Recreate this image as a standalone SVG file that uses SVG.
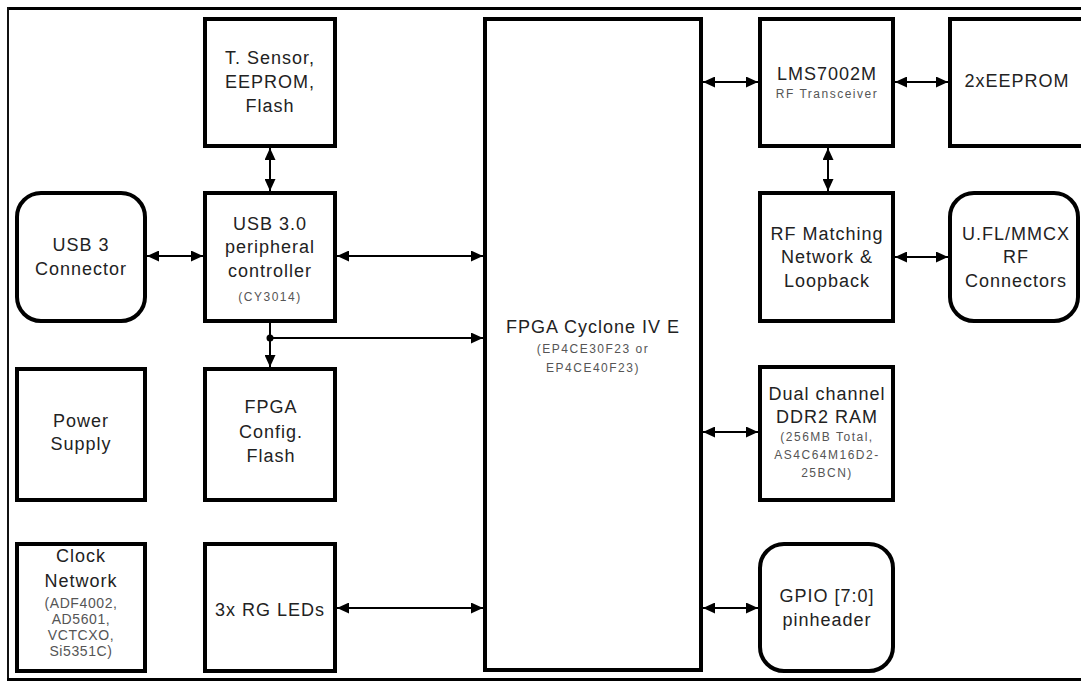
<svg xmlns="http://www.w3.org/2000/svg" width="1081" height="681" viewBox="0 0 1081 681">
<style>
.box{fill:#fff;stroke:#000;stroke-width:4}
.t{font-family:"Liberation Sans",Arial,sans-serif;font-size:18px;fill:#222;text-anchor:middle;letter-spacing:1px}
.s{font-family:"Liberation Sans",Arial,sans-serif;font-size:12px;fill:#555;text-anchor:middle;letter-spacing:1.5px}
.m{font-family:"Liberation Sans",Arial,sans-serif;font-size:14px;fill:#555;text-anchor:middle;letter-spacing:0.6px}
.c{stroke:#000;stroke-width:2;fill:none}
</style>
<defs>
<marker id="ah" markerUnits="userSpaceOnUse" markerWidth="12" markerHeight="11" refX="12" refY="5.5" orient="auto-start-reverse" viewBox="0 0 12 11">
<path d="M0,0 L12,5.5 L0,11 z" fill="#000"/>
</marker>
</defs>
<rect width="1081" height="681" fill="#fff"/>
<g id="frame">
<line x1="7" y1="8.5" x2="1081" y2="8.5" stroke="#000" stroke-width="3"/>
<line x1="8" y1="7" x2="8" y2="680" stroke="#111" stroke-width="2"/>
<line x1="7" y1="679.5" x2="1081" y2="679.5" stroke="#000" stroke-width="3"/>
</g>
<g id="connectors">
<line class="c" x1="147" y1="256" x2="203" y2="256" marker-start="url(#ah)" marker-end="url(#ah)"/>
<line class="c" x1="270" y1="148" x2="270" y2="191" marker-start="url(#ah)" marker-end="url(#ah)"/>
<line class="c" x1="337" y1="256" x2="483" y2="256" marker-start="url(#ah)" marker-end="url(#ah)"/>
<line class="c" x1="270" y1="323" x2="270" y2="367" marker-end="url(#ah)"/>
<circle cx="270" cy="338" r="3.5" fill="#000"/>
<line class="c" x1="270" y1="338" x2="483" y2="338" marker-end="url(#ah)"/>
<line class="c" x1="337" y1="608" x2="483" y2="608" marker-start="url(#ah)" marker-end="url(#ah)"/>
<line class="c" x1="703" y1="82" x2="758" y2="82" marker-start="url(#ah)" marker-end="url(#ah)"/>
<line class="c" x1="895" y1="82" x2="948" y2="82" marker-start="url(#ah)" marker-end="url(#ah)"/>
<line class="c" x1="828" y1="148" x2="828" y2="191" marker-start="url(#ah)" marker-end="url(#ah)"/>
<line class="c" x1="895" y1="257" x2="948" y2="257" marker-start="url(#ah)" marker-end="url(#ah)"/>
<line class="c" x1="703" y1="432" x2="758" y2="432" marker-start="url(#ah)" marker-end="url(#ah)"/>
<line class="c" x1="703" y1="608" x2="758" y2="608" marker-start="url(#ah)" marker-end="url(#ah)"/>
</g>
<g id="tsensor">
<rect class="box" x="205" y="19" width="130" height="127"/>
<text class="t" x="270" y="64">T. Sensor,</text>
<text class="t" x="270" y="88">EEPROM,</text>
<text class="t" x="270" y="112">Flash</text>
</g>
<g id="usbctrl">
<rect class="box" x="205" y="193" width="130" height="128"/>
<text class="t" x="270" y="230">USB 3.0</text>
<text class="t" x="270" y="253">peripheral</text>
<text class="t" x="270" y="277">controller</text>
<text class="s" x="270" y="301">(CY3014)</text>
</g>
<g id="usbconn">
<rect class="box" x="17" y="193" width="128" height="128" rx="24"/>
<text class="t" x="81" y="251">USB 3</text>
<text class="t" x="81" y="275">Connector</text>
</g>
<g id="power">
<rect class="box" x="17" y="369" width="128" height="131"/>
<text class="t" x="81" y="427">Power</text>
<text class="t" x="81" y="450">Supply</text>
</g>
<g id="fpgaflash">
<rect class="box" x="205" y="369" width="130" height="131"/>
<text class="t" x="271" y="413">FPGA</text>
<text class="t" x="271" y="438">Config.</text>
<text class="t" x="271" y="462">Flash</text>
</g>
<g id="clock">
<rect class="box" x="17" y="544" width="128" height="127"/>
<text class="t" x="81" y="562">Clock</text>
<text class="t" x="81" y="587">Network</text>
<text class="m" x="81" y="608">(ADF4002,</text>
<text class="m" x="81" y="624">AD5601,</text>
<text class="m" x="81" y="640">VCTCXO,</text>
<text class="m" x="81" y="656">Si5351C)</text>
</g>
<g id="leds">
<rect class="box" x="205" y="544" width="130" height="127"/>
<text class="t" x="270" y="616">3x RG LEDs</text>
</g>
<g id="fpga">
<rect class="box" x="485" y="19" width="216" height="651"/>
<text class="t" x="593" y="333">FPGA Cyclone IV E</text>
<text class="s" x="593" y="353">(EP4CE30F23 or</text>
<text class="s" x="593" y="372">EP4CE40F23)</text>
</g>
<g id="lms">
<rect class="box" x="760" y="19" width="133" height="127"/>
<text class="t" x="827" y="80">LMS7002M</text>
<text class="s" x="827" y="98">RF Transceiver</text>
</g>
<g id="eeprom">
<rect class="box" x="950" y="19" width="140" height="127"/>
<text class="t" x="1017" y="87">2xEEPROM</text>
</g>
<g id="rfmatch">
<rect class="box" x="760" y="193" width="133" height="128"/>
<text class="t" x="827" y="240">RF Matching</text>
<text class="t" x="827" y="263">Network &amp;</text>
<text class="t" x="827" y="287">Loopback</text>
</g>
<g id="ufl">
<rect class="box" x="950" y="193" width="128" height="128" rx="24"/>
<text class="t" x="1016" y="240">U.FL/MMCX</text>
<text class="t" x="1016" y="263">RF</text>
<text class="t" x="1016" y="287">Connectors</text>
</g>
<g id="ddr2">
<rect class="box" x="760" y="367" width="133" height="133"/>
<text class="t" x="827" y="400">Dual channel</text>
<text class="t" x="827" y="423">DDR2 RAM</text>
<text class="s" x="827" y="441">(256MB Total,</text>
<text class="s" x="827" y="459">AS4C64M16D2-</text>
<text class="s" x="827" y="477">25BCN)</text>
</g>
<g id="gpio">
<rect class="box" x="760" y="544" width="133" height="127" rx="24"/>
<text class="t" x="827" y="602">GPIO [7:0]</text>
<text class="t" x="827" y="626">pinheader</text>
</g>
</svg>
